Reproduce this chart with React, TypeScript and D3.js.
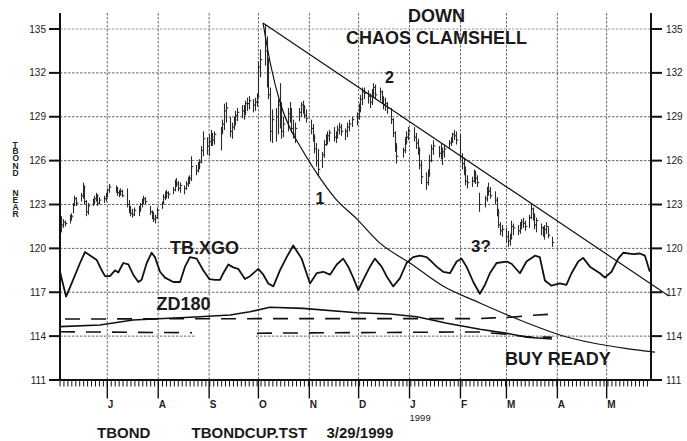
import React from "react";
import * as d3 from "d3";

// ---------- data ----------
const Y_TICKS = [111, 114, 117, 120, 123, 126, 129, 132, 135];
const MONTH_STARTS = ["1998-07-01", "1998-08-01", "1998-09-01", "1998-10-01", "1998-11-01", "1998-12-01", "1999-01-01", "1999-02-01", "1999-03-01", "1999-04-01", "1999-05-01"];
const MONTH_LABELS = ["J", "A", "S", "O", "N", "D", "J", "F", "M", "A", "M"];

// daily bars, one row per week (Mon..Fri), null = no trading / not shown
const HIGH: (number | null)[][] = [
  [null, null, 122.2, 122.0, 121.9],
  [122.3, 122.4, 123.1, 123.6, 123.5],
  [123.8, 124.5, 124.3, 123.3, 123.1],
  [123.4, 123.6, 123.8, 123.7, 123.5],
  [123.6, 123.8, 124.1, 124.4, null],
  [124.3, 124.2, 124.0, 124.1, 124.0],
  [124.1, 123.3, 122.9, 122.7, 122.8],
  [122.9, 123.1, 123.4, 123.6, 123.5],
  [122.9, 122.6, 122.5, 122.3, 122.8],
  [123.2, 123.7, 123.9, 124.0, 123.9],
  [124.2, 124.7, 124.8, 124.6, 124.5],
  [124.3, 124.6, 124.9, 125.0, 126.3],
  [125.7, 125.9, 126.1, 127.0, 128.0],
  [127.6, 127.8, 128.1, 127.9, 128.0],
  [null, 128.3, 128.8, 129.9, 130.0],
  [129.0, 128.6, 129.0, 129.4, 129.6],
  [129.8, 129.8, 130.1, 130.3, 130.4],
  [130.2, 130.3, 130.6, 132.8, 133.6],
  [135.3, 134.5, 133.0, 131.0, 129.5],
  [129.6, 130.2, 131.3, 130.0, 129.0],
  [129.6, 130.0, 129.6, 128.8, 128.6],
  [129.6, 130.0, 130.1, 129.8, 129.5],
  [128.8, 128.5, 127.8, 127.2, 126.8],
  [126.6, 127.4, 127.8, 128.0, 128.1],
  [128.3, 128.0, 128.4, 128.6, 128.5],
  [128.2, 128.6, 128.8, null, 129.0],
  [129.3, 129.9, 130.5, 131.0, 131.0],
  [130.8, 130.6, 130.9, 131.3, 131.2],
  [131.0, 130.8, 130.4, 130.3, 130.0],
  [129.6, 128.9, 128.0, 127.2, null],
  [126.9, 127.6, 128.0, 128.3, null],
  [128.3, 127.9, 127.5, 126.9, 126.0],
  [125.2, 125.4, 126.4, 127.1, 127.4],
  [null, 127.0, 127.2, 126.9, 127.1],
  [127.4, 127.6, 127.9, 128.1, 128.0],
  [127.8, 126.5, 126.2, 125.6, 125.0],
  [124.9, 125.4, 125.3, 125.0, 123.8],
  [null, 123.6, 124.2, 124.5, 124.2],
  [123.9, 123.5, 122.7, 121.8, 121.6],
  [121.4, 121.2, 121.0, 121.9, 121.7],
  [121.6, 121.8, 122.0, 122.1, 121.9],
  [122.3, 123.1, 122.8, 122.4, 122.1],
  [121.7, 121.5, 121.6, 121.8, 121.5],
  [120.8, null, null, null, null],
];
const LOW: (number | null)[][] = [
  [null, null, 121.1, 121.4, 121.5],
  [121.7, 121.9, 122.4, 122.9, 122.9],
  [123.2, 123.4, 123.0, 122.2, 122.3],
  [122.9, 123.0, 123.2, 122.9, 123.0],
  [123.1, 123.2, 123.5, 123.8, null],
  [123.8, 123.6, 123.5, 123.6, 123.5],
  [122.8, 122.4, 122.2, 122.1, 122.2],
  [122.2, 122.5, 122.8, 123.0, 123.0],
  [122.3, 122.0, 121.8, 121.7, 122.0],
  [122.7, 123.0, 123.3, 123.4, 123.4],
  [123.7, 123.9, 124.2, 123.9, 123.8],
  [123.7, 124.0, 124.2, 124.4, 124.6],
  [125.0, 125.2, 125.4, 125.8, 126.3],
  [126.4, 126.3, 127.0, 127.0, 127.1],
  [null, 126.7, 127.8, 128.1, 128.6],
  [127.6, 127.5, 128.1, 128.4, 128.7],
  [128.9, 128.8, 129.1, 129.4, 129.5],
  [129.3, 129.4, 129.7, 130.3, 131.7],
  [132.5, 131.0, 130.2, 127.3, 127.2],
  [127.3, 127.8, 128.2, 127.5, 127.6],
  [128.0, 128.6, 127.9, 127.5, 127.2],
  [128.7, 129.0, 129.2, 128.9, 128.6],
  [127.8, 127.3, 126.5, 125.6, 125.0],
  [125.5, 126.2, 127.0, 127.1, 127.3],
  [127.3, 127.2, 127.5, 127.8, 127.7],
  [127.4, 127.6, 128.0, null, 128.3],
  [128.4, 128.8, 129.3, 129.8, 130.2],
  [129.9, 129.6, 129.8, 130.3, 130.2],
  [130.1, 129.9, 129.5, 129.4, 129.2],
  [128.5, 127.6, 126.6, 125.8, null],
  [126.2, 126.5, 127.1, 127.4, null],
  [127.3, 126.8, 126.4, 125.4, 124.4],
  [124.0, 124.3, 124.9, 125.9, 126.4],
  [null, 126.2, 126.1, 125.7, 126.2],
  [126.8, 127.0, 127.2, 127.4, 127.1],
  [126.0, 125.4, 125.0, 124.3, 124.1],
  [124.2, 124.5, 124.4, 124.2, 122.5],
  [null, 122.8, 123.2, 123.6, 123.4],
  [123.0, 122.2, 121.4, 120.9, 120.8],
  [120.4, 120.1, 120.2, 120.6, 120.9],
  [120.9, 121.0, 121.3, 121.4, 121.2],
  [121.4, 122.0, 121.9, 121.3, 121.1],
  [120.9, 120.8, 120.6, 121.0, 120.7],
  [120.1, null, null, null, null],
];
const CLOSE: (number | null)[][] = [
  [null, null, 121.6, 121.8, 121.7],
  [122.1, 122.2, 123.0, 123.4, 123.1],
  [123.6, 124.2, 123.2, 122.5, 122.9],
  [123.2, 123.4, 123.6, 123.1, 123.3],
  [123.4, 123.7, 124.0, 124.2, null],
  [124.1, 123.8, 123.7, 123.9, 123.6],
  [123.0, 122.6, 122.4, 122.3, 122.6],
  [122.7, 123.0, 123.3, 123.4, 123.2],
  [122.5, 122.2, 122.0, 122.1, 122.6],
  [123.1, 123.5, 123.6, 123.8, 123.7],
  [124.0, 124.5, 124.4, 124.1, 124.3],
  [124.1, 124.4, 124.7, 124.8, 125.6],
  [125.3, 125.6, 125.9, 126.7, 127.5],
  [127.0, 127.3, 127.6, 127.4, 127.8],
  [null, 128.0, 128.5, 129.4, 129.6],
  [128.0, 128.3, 128.8, 129.1, 129.3],
  [129.4, 129.3, 129.9, 129.9, 130.1],
  [129.8, 130.0, 130.4, 132.4, 132.9],
  [133.5, 132.0, 130.5, 128.0, 128.8],
  [129.0, 129.8, 129.0, 128.0, 128.5],
  [129.2, 129.0, 128.2, 127.8, 128.2],
  [129.3, 129.8, 129.6, 129.1, 128.9],
  [128.2, 127.6, 126.8, 126.0, 125.4],
  [126.4, 127.1, 127.5, 127.7, 127.9],
  [127.6, 127.8, 128.1, 128.3, 128.0],
  [128.0, 128.3, 128.5, null, 128.8],
  [129.0, 129.6, 130.2, 130.7, 130.6],
  [130.4, 130.0, 130.6, 131.0, 130.5],
  [130.7, 130.2, 129.8, 129.9, 129.6],
  [128.8, 127.9, 126.9, 126.3, null],
  [126.7, 127.3, 127.6, 128.0, null],
  [127.6, 127.2, 126.7, 125.7, 124.9],
  [124.5, 125.1, 126.0, 126.8, 127.0],
  [null, 126.5, 126.4, 126.6, 126.8],
  [127.2, 127.3, 127.8, 127.7, 127.4],
  [126.3, 125.8, 125.3, 124.6, 124.5],
  [124.6, 125.1, 124.8, 124.5, 123.0],
  [null, 123.4, 124.0, 123.9, 123.6],
  [123.3, 122.4, 121.6, 121.2, 121.3],
  [120.8, 120.5, 120.7, 121.5, 121.4],
  [121.2, 121.6, 121.8, 121.7, 121.5],
  [122.1, 122.7, 122.2, 121.6, 121.9],
  [121.4, 121.0, 121.3, 121.5, 120.9],
  [120.4, null, null, null, null],
];

// TB.XGO oscillator: day offset from 1998-06-01, value on price scale
const XGO_DAY = [1.2, 4.9, 8.3, 13.4, 16.4, 18.4, 23.6, 26.6, 28.6, 31.6, 34.7, 36.7, 39.7, 42.8, 45.8, 48.9, 50.9, 54.0, 57.0, 59.0, 62.1, 65.1, 70.2, 74.3, 77.3, 80.3, 84.4, 88.4, 92.1, 95.6, 98.6, 100.6, 103.7, 106.7, 109.7, 113.8, 116.9, 121.9, 125.0, 128.0, 131.1, 135.1, 139.2, 143.2, 148.3, 153.4, 157.5, 161.5, 165.6, 169.7, 173.6, 176.7, 179.7, 182.8, 185.8, 189.9, 192.9, 197.0, 200.0, 204.1, 208.1, 212.2, 216.2, 220.3, 224.4, 227.4, 230.5, 234.5, 238.6, 242.7, 245.7, 248.7, 252.8, 256.8, 259.9, 262.9, 267.0, 273.1, 276.1, 281.2, 285.2, 290.3, 293.3, 296.4, 300.4, 305.5, 309.5, 312.6, 316.7, 319.7, 323.8, 329.9, 332.9, 337.0, 341.0, 344.1, 350.2, 354.2, 357.3, 360.3];
const XGO_VAL = [118.4, 116.7, 117.6, 119.0, 119.75, 119.6, 119.2, 118.5, 118.1, 118.1, 118.5, 118.35, 119.0, 118.9, 118.2, 117.7, 117.85, 119.0, 119.7, 119.4, 118.4, 118.0, 117.7, 117.7, 118.75, 119.4, 119.3, 118.5, 117.9, 117.85, 117.85, 118.3, 118.9, 118.7, 118.6, 117.9, 118.1, 118.6, 118.2, 117.6, 117.4, 118.5, 119.4, 120.2, 119.3, 117.6, 118.3, 118.4, 118.2, 118.9, 119.3, 118.75, 118.0, 117.15, 117.85, 118.75, 119.3, 118.75, 118.1, 117.4, 117.95, 119.0, 119.4, 119.5, 119.4, 119.1, 118.75, 118.4, 118.3, 119.1, 119.3, 118.75, 117.7, 116.9, 117.5, 118.3, 119.0, 119.1, 118.95, 118.3, 119.1, 119.5, 119.4, 117.8, 117.45, 117.6, 117.5, 118.3, 119.1, 119.35, 118.75, 118.3, 118.0, 118.4, 119.3, 119.7, 119.6, 119.65, 119.5, 118.4];

// ZD180 lines
const ZD_SOLID_DAY = [1.2, 25.6, 45.6, 86.4, 104.7, 116.9, 129.0, 149.1, 182.0, 202.1, 218.5, 236.8, 256.9, 273.3, 285.5, 300.7];
const ZD_SOLID = [114.65, 114.76, 115.1, 115.33, 115.44, 115.67, 115.97, 115.9, 115.6, 115.51, 115.33, 114.88, 114.47, 114.19, 113.92, 113.8];
const ZD_UP_DAY = [4.3, 150, 256.9, 264.8, 277.0, 285.5, 300.7];
const ZD_UP = [115.17, 115.2, 115.2, 115.25, 115.3, 115.4, 115.5];
const ZD_LOW_DAY = [1.2, 81.6, 100, 121.1, 244.7, 256.9, 273.3, 285.5, 300.7];
const ZD_LOW: (number | null)[] = [114.3, 114.23, null, 114.2, 114.28, 114.28, 114.12, 113.96, 113.92];

// clamshell: straight upper line and curved lower line
const LINE_DAY = [124.8, 371.9];
const LINE_VAL = [135.41, 116.74];
const CURVE_DAY = [124.8, 129.6, 135.1, 141.2, 147.3, 158.2, 168.6, 182.0, 196.0, 214.2, 234.3, 256.8, 285.5, 305.5, 325.6, 346.3, 363.4];
const CURVE_VAL = [135.41, 132.47, 130.01, 128.23, 127.0, 125.02, 123.44, 122.0, 120.36, 119.0, 117.43, 116.27, 114.9, 114.08, 113.53, 113.15, 112.91];

// ---------- helpers ----------
const FONT = "'Liberation Sans', Arial, Helvetica, sans-serif";
const BASE = new Date(1998, 5, 1);
const dayToDate = (d: number) => new Date(BASE.getTime() + d * 86400000);
const parseDate = (s: string) => {
  const [yy, mm, dd] = s.split("-").map(Number);
  return new Date(yy, mm - 1, dd);
};

export default function App() {
  const x = d3.scaleTime().domain([new Date(1998, 5, 2, 5), new Date(1999, 4, 28)]).range([60, 651]);
  const y = d3.scaleLinear().domain([111, 135]).range([380, 29]);
  const yTop = 13;
  const [xL, xR] = x.range();
  const yB = y(111);

  const weeks = d3.timeMonday.range(new Date(1998, 5, 1), new Date(1999, 3, 1));
  const bars: { date: Date; h: number; l: number; c: number }[] = [];
  weeks.forEach((w, wi) => {
    for (let i = 0; i < 5; i++) {
      const h = HIGH[wi]?.[i];
      const l = LOW[wi]?.[i];
      const c = CLOSE[wi]?.[i];
      if (h == null || l == null || c == null) continue;
      bars.push({ date: d3.timeDay.offset(w, i), h, l, c });
    }
  });

  const line = d3
    .line<[number, number | null]>()
    .defined((d) => d[1] != null)
    .x((d) => x(dayToDate(d[0])))
    .y((d) => y(d[1] as number));
  const smooth = d3
    .line<[number, number]>()
    .curve(d3.curveMonotoneX)
    .x((d) => x(dayToDate(d[0])))
    .y((d) => y(d[1]));

  const zip = (a: number[], b: (number | null)[]) => a.map((v, i) => [v, b[i]] as [number, number | null]);

  const [dStart, dEnd] = x.domain();
  const minorTicks = d3.range(dStart.getTime(), dEnd.getTime() + 1, 2.4 * 86400000).map((t) => new Date(t));
  const months = MONTH_STARTS.map(parseDate);

  return (
    <svg width={687} height={441} style={{ position: "absolute", left: 0, top: 0, background: "#fff" }} fontFamily={FONT}>
      <rect width={687} height={441} fill="#fff" />
      {/* grid */}
      <g stroke="#666" strokeWidth={1} strokeDasharray="2.5,1.5">
        {Y_TICKS.filter((t) => t > 111).map((t) =>
          t === 114 ? (
            <g key={t}>
              <line x1={xL} x2={196} y1={y(t)} y2={y(t)} />
              <line x1={256} x2={xR} y1={y(t)} y2={y(t)} />
            </g>
          ) : (
            <line key={t} x1={xL} x2={xR} y1={y(t)} y2={y(t)} stroke={t === 135 ? "#999" : "#666"} />
          )
        )}
        {months.map((m, i) => (
          <line key={i} x1={x(m)} x2={x(m)} y1={yTop} y2={yB} />
        ))}
      </g>

      {/* axes frame */}
      <g stroke="#111" strokeWidth={2}>
        <line x1={xL} x2={xL} y1={yTop} y2={yB + 1} />
        <line x1={xR} x2={xR} y1={yTop} y2={yB + 1} />
        <line x1={xL - 1} x2={xR + 1} y1={yB} y2={yB} />
        {Y_TICKS.map((t) => (
          <g key={t}>
            <line x1={xL - 11} x2={xL} y1={y(t)} y2={y(t)} />
            <line x1={xR} x2={xR + 11} y1={y(t)} y2={y(t)} />
          </g>
        ))}
      </g>
      <g fontSize={10} fill="#222">
        {Y_TICKS.map((t) => (
          <g key={t}>
            <text x={xL - 14} y={y(t) + 3.6} textAnchor="end">{t}</text>
            <text x={xR + 15} y={y(t) + 3.6}>{t}</text>
          </g>
        ))}
      </g>

      {/* time axis ticks */}
      <g stroke="#111" strokeWidth={1}>
        {minorTicks.map((d, i) => (
          <line key={i} x1={x(d)} x2={x(d)} y1={yB} y2={yB + 6.5} />
        ))}
      </g>
      <g stroke="#111" strokeWidth={1.4}>
        {months.map((m, i) => (
          <line key={i} x1={x(m)} x2={x(m)} y1={yB} y2={yB + 18.5} />
        ))}
      </g>
      <g fontSize={10} fontWeight="bold" fill="#222">
        {months.map((m, i) => (
          <text key={i} x={x(m) + 0.5} y={407.5}>{MONTH_LABELS[i]}</text>
        ))}
      </g>
      <text x={x(months[6])} y={421} fontSize={9.5} fill="#222">1999</text>

      {/* left vertical label: one text running downward, each glyph turned upright */}
      <text
        transform="translate(12.5,148.3) rotate(90)"
        rotate="-90"
        fontSize={8.5}
        fontWeight="bold"
        fill="#222"
        letterSpacing={0.9}
      >
        {"TBOND\u00a0\u00a0\u00a0\u00a0NEAR"}
      </text>

      {/* price bars */}
      <g stroke="#2a2a2a" strokeWidth={1.1}>
        {bars.map((b, i) => {
          const bx = Math.round(x(b.date)) + 0.5;
          return (
            <g key={i}>
              <line x1={bx} x2={bx} y1={y(b.h)} y2={y(b.l)} />
              <line x1={bx} x2={bx + 1.8} y1={y(b.c)} y2={y(b.c)} />
            </g>
          );
        })}
      </g>

      {/* oscillator */}
      <path d={line(zip(XGO_DAY, XGO_VAL)) || ""} fill="none" stroke="#111" strokeWidth={1.8} strokeLinejoin="round" />

      {/* ZD180 */}
      <path d={line(zip(ZD_SOLID_DAY, ZD_SOLID)) || ""} fill="none" stroke="#111" strokeWidth={1.6} />
      <path d={line(zip(ZD_UP_DAY, ZD_UP)) || ""} fill="none" stroke="#111" strokeWidth={1.6} strokeDasharray="15,11" />
      <path d={line(zip(ZD_LOW_DAY, ZD_LOW)) || ""} fill="none" stroke="#111" strokeWidth={1.6} strokeDasharray="15,11" />

      {/* clamshell lines */}
      <path d={line(zip(LINE_DAY, LINE_VAL)) || ""} fill="none" stroke="#111" strokeWidth={1.2} />
      <path d={smooth(CURVE_DAY.map((d, i) => [d, CURVE_VAL[i]] as [number, number])) || ""} fill="none" stroke="#111" strokeWidth={1.2} />

      {/* annotations */}
      <g fill="#1a1a1a" fontWeight="bold">
        <text x={408} y={21.7} fontSize={18}>DOWN</text>
        <text x={346} y={43.5} fontSize={18}>CHAOS CLAMSHELL</text>
        <text x={385} y={83} fontSize={16}>2</text>
        <text x={315.5} y={203.5} fontSize={16}>1</text>
        <text x={471} y={251.5} fontSize={17}>3?</text>
        <text x={170} y={253.5} fontSize={18}>TB.XGO</text>
        <text x={156.5} y={310} fontSize={18}>ZD180</text>
        <text x={505} y={365} fontSize={18}>BUY READY</text>
        <text x={97} y={438} fontSize={15}>TBOND</text>
        <text x={191.5} y={438} fontSize={15}>TBONDCUP.TST</text>
        <text x={326.5} y={438} fontSize={15}>3/29/1999</text>
      </g>
    </svg>
  );
}
